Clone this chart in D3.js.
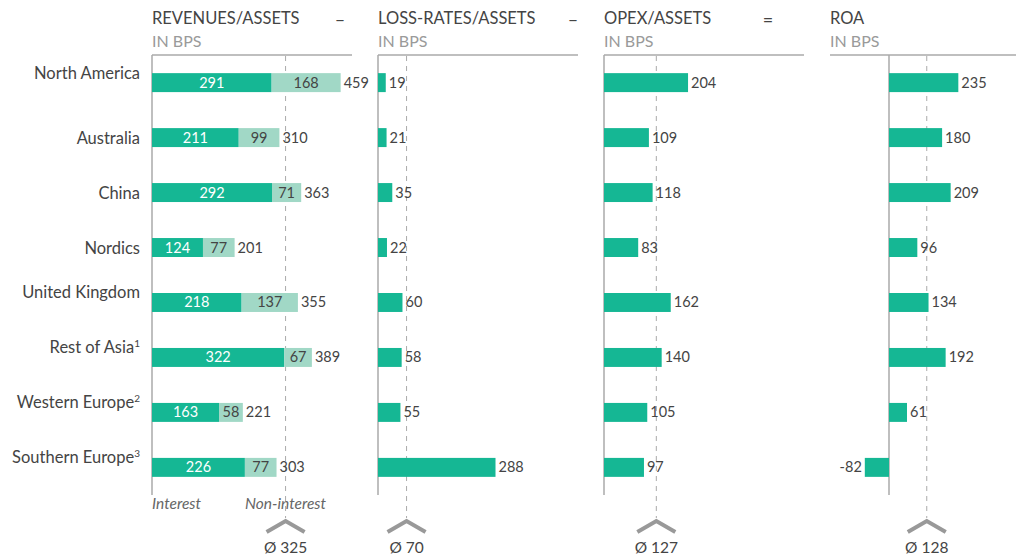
<!DOCTYPE html>
<html lang="en">
<head>
    <meta charset="UTF-8">
    <title>Bank profitability by region</title>
    <script src="https://d3js.org/d3.v7.min.js"></script>
    <style>
        body { margin: 0; background: #fff; }
        svg { font-family: Lato, "Open Sans", sans-serif; }
        .title { font-size: 16.5px; fill: #444; }
        .unit { font-size: 16px; fill: #9a9a9a; }
        .cat { font-size: 16.5px; fill: #444; }
        .val { font-size: 14.5px; fill: #444; }
        .avg { font-size: 15.5px; fill: #444; }
        .leg { font-size: 15.5px; fill: #666; font-style: italic; }
    </style>
</head>
<body>
    <svg width="1016" height="557"></svg>
    <script>
        // data
        var regions = ["North America", "Australia", "China", "Nordics", "United Kingdom",
                       "Rest of Asia", "Western Europe", "Southern Europe"];
        var footnotes = ["", "", "", "", "", "1", "2", "3"];
        var interest = [291, 211, 292, 124, 218, 322, 163, 226];
        var nonInterest = [168, 99, 71, 77, 137, 67, 58, 77];
        var lossRates = [19, 21, 35, 22, 60, 58, 55, 288];
        var opex = [204, 109, 118, 83, 162, 140, 105, 97];
        var roa = [235, 180, 209, 96, 134, 192, 61, -82];
        var titles = ["REVENUES/ASSETS", "LOSS-RATES/ASSETS", "OPEX/ASSETS", "ROA"];
        var operators = ["–", "–", "=", ""];
        var averages = [325, 70, 127, 128];

        var green = "#15b794", lightGreen = "#a1d8c6";
        var svg = d3.select("svg");

        var y = d3.scaleBand().domain(regions).range([55, 495]).paddingInner(0.655).paddingOuter(0.33);
        // panels: zero line x, px per bps, extent of top rule
        var panels = [
            {x0: 152, k: 0.411, left: 152, right: 352, opX: 340},
            {x0: 378, k: 0.408, left: 378, right: 578, opX: 573},
            {x0: 604, k: 0.412, left: 604, right: 804, opX: 768},
            {x0: 889, k: 0.295, left: 830, right: 1016, opX: 0}
        ];
        panels.forEach(function(p) {
            p.x = d3.scaleLinear().domain([0, 100]).range([p.x0, p.x0 + 100 * p.k]);
        });

        // category labels (multi-word names sit higher than the bar)
        svg.append("g").selectAll("text")
            .data(regions)
            .enter()
            .append("text")
            .attr("class", "cat")
            .attr("text-anchor", "end")
            .attr("x", 140)
            .attr("y", function(d) {
                var c = y(d) + y.bandwidth() / 2 + 6;
                return d.indexOf(" ") >= 0 ? c - 10 : c;
            })
            .each(function(d, i) {
                var t = d3.select(this);
                t.append("tspan").text(d);
                if (footnotes[i]) {
                    t.append("tspan").attr("dy", -6).style("font-size", "10px").text(footnotes[i]);
                }
            });

        panels.forEach(function(p, pi) {
            var g = svg.append("g");
            var tx = p.left;
            g.append("text").attr("class", "title").attr("x", tx).attr("y", 24).text(titles[pi]);
            g.append("text").attr("class", "unit").attr("x", tx).attr("y", 47).text("IN BPS");
            if (operators[pi]) {
                g.append("text").attr("class", "title").attr("x", p.opX).attr("y", 26)
                    .attr("text-anchor", "middle").style("font-size", "18px").text(operators[pi]);
            }
            // top rule and zero axis
            g.append("line").attr("x1", p.left).attr("x2", p.right).attr("y1", 55).attr("y2", 55)
                .attr("stroke", "#aaa").attr("stroke-width", 1.5);
            g.append("line").attr("x1", p.x0).attr("x2", p.x0).attr("y1", 55).attr("y2", 495)
                .attr("stroke", "#aaa").attr("stroke-width", 1.5);
            // average line + chevron
            var ax = p.x(averages[pi]);
            g.append("line").attr("x1", ax).attr("x2", ax).attr("y1", 56).attr("y2", 518)
                .attr("stroke", "#aaa").attr("stroke-width", 1).attr("stroke-dasharray", "5,5");
            g.append("path").attr("d", "M" + (ax - 19) + ",532 L" + ax + ",521 L" + (ax + 19) + ",532")
                .attr("fill", "none").attr("stroke", "#999").attr("stroke-width", 4);
            g.append("text").attr("class", "avg").attr("x", ax).attr("y", 553)
                .attr("text-anchor", "middle").text("Ø " + averages[pi]);
        });

        // panel 1: stacked revenues
        var p1 = panels[0];
        var g1 = svg.append("g");
        g1.selectAll(".int").data(regions).enter().append("rect")
            .attr("x", p1.x(0))
            .attr("y", function(d) { return y(d); })
            .attr("width", function(d, i) { return p1.x(interest[i]) - p1.x(0); })
            .attr("height", y.bandwidth())
            .attr("fill", green);
        g1.selectAll(".non").data(regions).enter().append("rect")
            .attr("x", function(d, i) { return p1.x(interest[i]); })
            .attr("y", function(d) { return y(d); })
            .attr("width", function(d, i) { return p1.x(nonInterest[i]) - p1.x(0); })
            .attr("height", y.bandwidth())
            .attr("fill", lightGreen);
        g1.selectAll(".intT").data(regions).enter().append("text")
            .attr("class", "val").style("fill", "#fff").attr("text-anchor", "middle")
            .attr("x", function(d, i) { return p1.x(interest[i] / 2); })
            .attr("y", function(d) { return y(d) + y.bandwidth() / 2 + 5; })
            .text(function(d, i) { return interest[i]; });
        g1.selectAll(".nonT").data(regions).enter().append("text")
            .attr("class", "val").attr("text-anchor", "middle")
            .attr("x", function(d, i) { return p1.x(interest[i] + nonInterest[i] / 2); })
            .attr("y", function(d) { return y(d) + y.bandwidth() / 2 + 5; })
            .text(function(d, i) { return nonInterest[i]; });
        g1.selectAll(".totT").data(regions).enter().append("text")
            .attr("class", "val")
            .attr("x", function(d, i) { return p1.x(interest[i] + nonInterest[i]) + 3; })
            .attr("y", function(d) { return y(d) + y.bandwidth() / 2 + 5; })
            .text(function(d, i) { return interest[i] + nonInterest[i]; });
        g1.append("text").attr("class", "leg").attr("x", 152).attr("y", 509).text("Interest");
        g1.append("text").attr("class", "leg").attr("x", 245).attr("y", 509).text("Non-interest");

        // panels 2-4: simple bars
        [lossRates, opex, roa].forEach(function(vals, j) {
            var p = panels[j + 1];
            var g = svg.append("g");
            g.selectAll("rect").data(regions).enter().append("rect")
                .attr("x", function(d, i) { return Math.min(p.x(0), p.x(vals[i])); })
                .attr("y", function(d) { return y(d); })
                .attr("width", function(d, i) { return Math.abs(p.x(vals[i]) - p.x(0)); })
                .attr("height", y.bandwidth())
                .attr("fill", green);
            g.selectAll("text").data(regions).enter().append("text")
                .attr("class", "val")
                .attr("text-anchor", function(d, i) { return vals[i] < 0 ? "end" : "start"; })
                .attr("x", function(d, i) { return p.x(vals[i]) + (vals[i] < 0 ? -3 : 3); })
                .attr("y", function(d) { return y(d) + y.bandwidth() / 2 + 5; })
                .text(function(d, i) { return vals[i]; });
        });
    </script>
</body>
</html>
